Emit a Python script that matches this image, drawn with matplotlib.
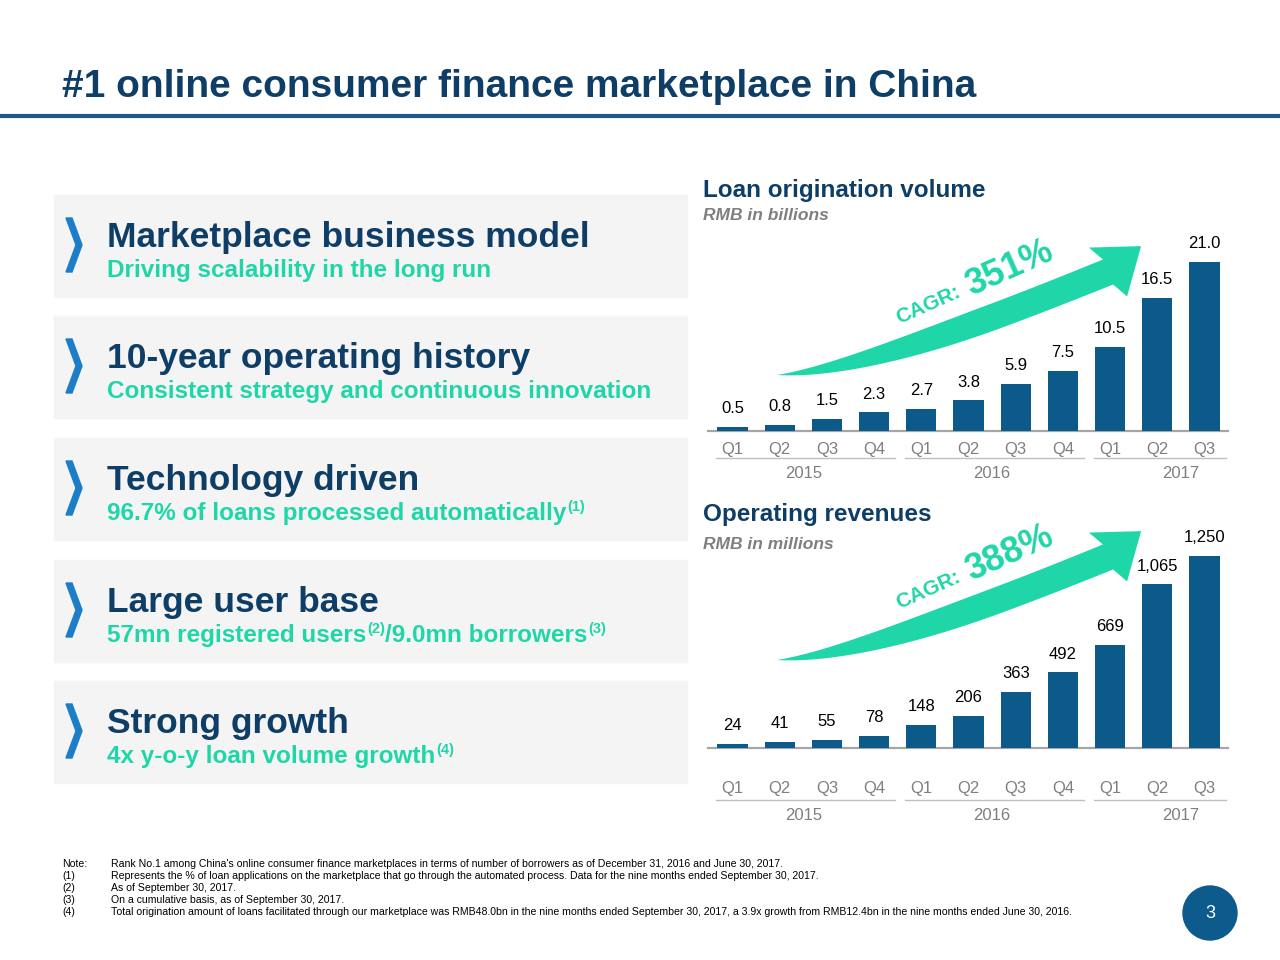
import numpy as np
import matplotlib
matplotlib.use('Agg')
import matplotlib.pyplot as plt
import matplotlib.transforms as mtransforms
from matplotlib.patches import Rectangle, Polygon, Circle

plt.rcParams['font.family'] = ['Liberation Sans', 'DejaVu Sans']

# ---------------- data ----------------
quarters = ['Q1', 'Q2', 'Q3', 'Q4', 'Q1', 'Q2', 'Q3', 'Q4', 'Q1', 'Q2', 'Q3']
years = ['2015', '2016', '2017']
year_first = [0, 4, 8]
year_last = [3, 7, 10]
loan_volume = [0.5, 0.8, 1.5, 2.3, 2.7, 3.8, 5.9, 7.5, 10.5, 16.5, 21.0]
revenues = [24, 41, 55, 78, 148, 206, 363, 492, 669, 1065, 1250]
cagr_volume = '351%'
cagr_revenue = '388%'

headings = ['Marketplace business model', '10-year operating history', 'Technology driven',
            'Large user base', 'Strong growth']
# (text, is_superscript) pieces
subheadings = [[('Driving scalability in the long run', False)],
               [('Consistent strategy and continuous innovation', False)],
               [('96.7% of loans processed automatically', False), ('(1)', True)],
               [('57mn registered users', False), ('(2)', True), ('/9.0mn borrowers', False), ('(3)', True)],
               [('4x y-o-y loan volume growth', False), ('(4)', True)]]

notes = [('Note:', "Rank No.1 among China's online consumer finance marketplaces in terms of number of borrowers as of December 31, 2016 and June 30, 2017."),
         ('(1)', 'Represents the % of loan applications on the marketplace that go through the automated process. Data for the nine months ended September 30, 2017.'),
         ('(2)', 'As of September 30, 2017.'),
         ('(3)', 'On a cumulative basis, as of September 30, 2017.'),
         ('(4)', 'Total origination amount of loans facilitated through our marketplace was RMB48.0bn in the nine months ended September 30, 2017, a 3.9x growth from RMB12.4bn in the nine months ended June 30, 2016.')]

NAVY = '#0e3d66'
BAR = '#0b5a8a'
TEAL = '#1fd6a8'
GRAY = '#7f7f7f'
BLUE = '#1c7ec6'

W, H = 1280, 960
fig = plt.figure(figsize=(12.8, 9.6), dpi=100)
renderer = fig.canvas.get_renderer()

# pixel-coordinate overlay for slide decoration
bg = fig.add_axes([0, 0, 1, 1], zorder=0)
bg.set_xlim(0, W)
bg.set_ylim(H, 0)
bg.axis('off')

bg.text(62, 97, '#1 online consumer finance marketplace in China', fontsize=28,
        fontweight='bold', color=NAVY, va='baseline')
bg.plot([0, W], [116, 116], color='#1c5a8a', lw=3)

# left boxes
box_tops = [195, 316, 438, 560, 681]
for top, head, sub in zip(box_tops, headings, subheadings):
    bg.add_patch(Rectangle((54, top), 633, 102, color='#f4f4f4', zorder=1))
    chev = [(66, top + 23), (72, top + 23), (82, top + 50), (72, top + 77), (66, top + 77), (76, top + 50)]
    bg.add_patch(Polygon(chev, closed=True, color=BLUE, zorder=2))
    bg.text(107, top + 52, head, fontsize=25.5, fontweight='bold', color=NAVY, va='baseline', zorder=3)
    x = 107
    for piece, sup in sub:
        if sup:
            t = bg.text(x + 1, top + 82 - 9, piece, fontsize=10.5, fontweight='bold', color=TEAL,
                        va='baseline', zorder=3)
        else:
            t = bg.text(x, top + 82, piece, fontsize=17.5, fontweight='bold', color=TEAL,
                        va='baseline', zorder=3)
        x += t.get_window_extent(renderer).width + (1 if sup else 0)


def curved_arrow(ax, p0, p1, p2, p3, w_body, ramp, head_ang, head_half, head_len, color):
    p0, p1, p2, p3 = map(np.asarray, (p0, p1, p2, p3))
    t = np.linspace(0, 1, 200)[:, None]
    pts = ((1 - t) ** 3 * p0 + 3 * (1 - t) ** 2 * t * p1 + 3 * (1 - t) * t ** 2 * p2 + t ** 3 * p3)
    d = 3 * (1 - t) ** 2 * (p1 - p0) + 6 * (1 - t) * t * (p2 - p1) + 3 * t ** 2 * (p3 - p2)
    d = d / np.linalg.norm(d, axis=1, keepdims=True)
    n = np.column_stack([-d[:, 1], d[:, 0]])
    s = np.concatenate([[0], np.cumsum(np.linalg.norm(np.diff(pts, axis=0), axis=1))])
    r = np.minimum(s / ramp, 1)
    w = (w_body * (1 - (1 - r) ** 2) + 2 * s / s[-1]) / 2
    upper = pts + n * w[:, None]
    lower = pts - n * w[:, None]
    a = np.radians(head_ang)
    u = np.array([np.cos(a), -np.sin(a)])
    nn = np.array([-u[1], u[0]])
    tip = p3 + u * head_len
    poly = np.vstack([upper, [p3 + nn * head_half], [tip], [p3 - nn * head_half], lower[::-1]])
    ax.add_patch(Polygon(poly, closed=True, color=color, lw=0, zorder=2))


for dy, cagr in [(0, cagr_volume), (285, cagr_revenue)]:
    curved_arrow(bg, (777, 375 + dy), (857, 371 + dy), (997, 317 + dy), (1108, 272 + dy),
                 25, 230, 38, 31, 42, TEAL)
    bg.text(899, 324 + dy, 'CAGR:', fontsize=15, fontweight='bold', color=TEAL, rotation=24,
            rotation_mode='anchor', ha='left', va='baseline')
    bg.text(971, 296 + dy, cagr, fontsize=26, fontweight='bold', color=TEAL, rotation=24,
            rotation_mode='anchor', ha='left', va='baseline')

# chart titles
bg.text(703, 197, 'Loan origination volume', fontsize=17.5, fontweight='bold', color=NAVY, va='baseline')
bg.text(703, 220, 'RMB in billions', fontsize=12.5, fontweight='bold', style='italic', color=GRAY, va='baseline')
bg.text(703, 521, 'Operating revenues', fontsize=17.5, fontweight='bold', color=NAVY, va='baseline')
bg.text(703, 549, 'RMB in millions', fontsize=12.5, fontweight='bold', style='italic', color=GRAY, va='baseline')

# footnotes
for k, (lab, txt) in enumerate(notes):
    y = 864 + 12 * k
    bg.text(62, y, lab, fontsize=7.6, va='center', color='black')
    bg.text(111, y, txt, fontsize=7.6, va='center', color='black')

bg.add_patch(Circle((1210, 913), 27, color='#0d5a8c'))
bg.text(1210, 914, '3', fontsize=13, color='white', ha='center', va='center')


def below(ax, px):
    return ax.get_xaxis_transform() + mtransforms.ScaledTranslation(0, -px / 100, fig.dpi_scale_trans)


def bar_chart(rect, values, ymax, labels, tick_pad, line_px, year_px):
    ax = fig.add_axes(rect, zorder=2)
    ax.patch.set_alpha(0)
    x = np.arange(len(values))
    ax.bar(x, values, width=0.64, color=BAR, zorder=3)
    for xi, v, lab in zip(x, values, labels):
        ax.annotate(lab, (xi, v), xytext=(0, 10), textcoords='offset points',
                    ha='center', va='baseline', fontsize=12, color='black')
    ax.set_xlim(-0.519, 10.498)
    ax.set_ylim(0, ymax)
    for s in ['top', 'right', 'left']:
        ax.spines[s].set_visible(False)
    ax.spines['bottom'].set_color('#a6a6a6')
    ax.spines['bottom'].set_linewidth(1.6)
    ax.set_yticks([])
    ax.set_xticks(x, quarters)
    ax.tick_params(axis='x', length=0, pad=tick_pad, labelsize=12, labelcolor=GRAY)
    for yr, a, b in zip(years, year_first, year_last):
        ax.plot([a - 0.35, b + 0.45], [0, 0], color='#c0c0c0', lw=1, transform=below(ax, line_px), clip_on=False)
        ax.text(a + 1.5, 0, yr, ha='center', va='center', fontsize=12, color=GRAY,
                transform=below(ax, year_px))
    return ax


bar_chart([708 / W, (H - 431) / H, 520 / W, 169 / H], loan_volume, 21.0,
          [f'{v:.1f}' for v in loan_volume], 7.6, 27, 42)
bar_chart([708 / W, (H - 748) / H, 520 / W, 192 / H], revenues, 1250,
          [f'{v:,}' for v in revenues], 24, 52, 67)

fig.savefig('out.png', dpi=100)
